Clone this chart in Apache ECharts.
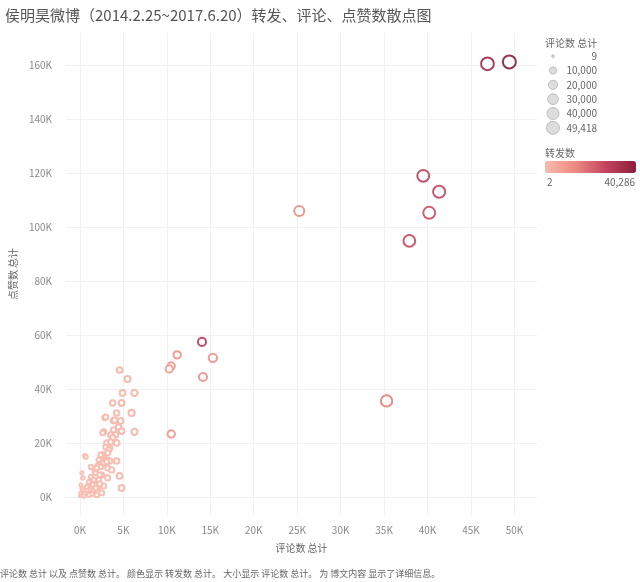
<!DOCTYPE html>
<html>
<head>
<meta charset="utf-8">
<script src="https://cdn.jsdelivr.net/npm/echarts@6/dist/echarts.min.js"></script>
<style>
  html, body { margin: 0; padding: 0; background: #fff; }
  #chart { width: 640px; height: 582px; }
</style>
</head>
<body>
<div id="chart"></div>
<script>
// 评论数, 点赞数, 转发数 per post
const comments = [
  49418, 46900, 39510, 41340, 40200, 37910, 25240, 35290,
  14050, 11190, 15300, 10510, 10280, 14160, 10510,
  4570, 5480, 4910, 6280, 3770, 4800, 4230, 5940, 2860, 3880, 4680, 4450, 3880, 6280,
  2740, 3540, 4110, 2630, 4800, 3770, 3080, 4230, 3430, 2970, 3310, 2630, 3200, 570,
  2400, 3080, 2280, 2860, 3430, 4230, 2060, 3200, 1710, 4570, 2510, 340, 1370, 2060,
  1480, 910, 4800, 2060, 2510, 1140, 570, 230, 230, 800, 1940, 1830, 2280, 1260,
  1600, 2170, 800, 110, 110, 690, 1260, 2400, 1940, 2740, 3080, 2170, 3540, 2970,
  4000, 1600, 1830, 2740, 2280, 3200, 3650, 1030, 1370, 460, 50, 1030, 340
]
const likes = [
  161100, 160400, 118900, 113000, 105200, 94800, 105900, 35560,
  57400, 52600, 51500, 48500, 47400, 44400, 23300,
  47000, 43700, 38500, 38500, 34800, 34800, 31100, 31100, 29300, 28200, 28200, 25900, 24800, 24100,
  24100, 23000, 23000, 23700, 24400, 21900, 20000, 20000, 18100, 18500, 17400, 15600, 16300, 15200,
  15600, 13700, 13300, 13300, 13300, 13300, 11500, 10700, 9630, 7780, 8150, 7040, 6300, 5930,
  4440, 4070, 3330, 3330, 1480, 2590, 1480, 3330, 8890, 2590, 740, 8890, 8150, 7410,
  6300, 6300, 3700, 1480, 4440, 14800, 11100, 11100, 10700, 12600, 13000, 13700, 20400, 29600,
  28500, 2590, 3330, 4070, 4810, 7040, 10000, 5560, 1110, 370, 370, 740, 2590
]
const reposts = [
  40286, 36000, 29000, 27000, 25000, 26000, 13000, 16000,
  30000, 11000, 12000, 10000, 9500, 12000, 10000,
  2600, 2400, 2200, 2800, 1900, 2300, 1800, 2500, 1500, 1700, 2000, 1800, 1600, 2600,
  1400, 1500, 1700, 1300, 2100, 1500, 1200, 1600, 1300, 1100, 1200, 1000, 1100, 400,
  900, 1000, 900, 1000, 1100, 1500, 800, 1200, 700, 1900, 900, 200, 500, 700,
  500, 300, 1800, 700, 600, 400, 200, 100, 150, 250, 500, 700, 800, 450,
  500, 700, 250, 30, 60, 300, 450, 800, 700, 1000, 1100, 800, 1300, 1400,
  1600, 400, 500, 700, 600, 900, 1200, 350, 300, 100, 2, 200, 120
]

const xTicks = [0, 5000, 10000, 15000, 20000, 25000, 30000, 35000, 40000, 45000, 50000]
const yTicks = [0, 20000, 40000, 60000, 80000, 100000, 120000, 140000, 160000]
const sizeLegendValues = [9, 10000, 20000, 30000, 40000, 49418]
const repostRange = [2, 40286]
const maxComments = 49418

const data = comments.map((c, i) => [c, likes[i], reposts[i]])

const sizeOf = v => 2.5 + Math.sqrt(v / maxComments) * 10.5
const kFmt = v => Math.round(v / 1000) + 'K'
const grey = '#8a8a8a'
const font = '"Noto Sans CJK SC", "Noto Sans", sans-serif'

const chart = echarts.init(document.getElementById('chart'))

const option = {
  backgroundColor: '#fff',
  textStyle: { fontFamily: font },
  animation: false,
  title: [
    {
      text: '侯明昊微博（2014.2.25~2017.6.20）转发、评论、点赞数散点图',
      left: 0, top: 3,
      textStyle: { fontSize: 15, fontWeight: 'normal', color: '#555', fontFamily: font }
    },
    { text: '评论数 总计', left: 540, top: 33, textStyle: { fontSize: 10, fontWeight: 'normal', color: '#666' } },
    { text: '转发数', left: 540, top: 143, textStyle: { fontSize: 10, fontWeight: 'normal', color: '#666' } },
    { text: '2', left: 542, top: 172, textStyle: { fontSize: 10, fontWeight: 'normal', color: '#666' } },
    { text: '40,286', right: 0, top: 172, textStyle: { fontSize: 10, fontWeight: 'normal', color: '#666' } },
    {
      text: '评论数 总计 以及 点赞数 总计。 颜色显示 转发数 总计。 大小显示 评论数 总计。 为 博文内容 显示了详细信息。',
      left: -5, top: 564,
      textStyle: { fontSize: 9, fontWeight: 'normal', color: '#666' }
    }
  ],
  visualMap: [
    {
      type: 'continuous',
      seriesIndex: 0,
      dimension: 2,
      min: repostRange[0],
      max: repostRange[1],
      orient: 'horizontal',
      left: 530,
      top: 146,
      itemWidth: 12,
      itemHeight: 91,
      calculable: false,
      text: null,
      showLabel: false,
      inRange: { color: ['#f8bcae', '#ec8a82', '#c4445e', '#8c1e3c'] }
    }
  ],
  grid: [
    { left: 62, right: 103, top: 33, bottom: 67 },
    { left: 547, width: 12, top: 49, height: 86 }
  ],
  xAxis: [
    {
      type: 'value',
      min: -1600,
      max: 52600,
      name: '评论数 总计',
      nameLocation: 'middle',
      nameGap: 28,
      nameTextStyle: { color: '#666', fontSize: 10 },
      axisLine: { show: false },
      axisTick: { show: false, customValues: xTicks },
      axisLabel: { customValues: xTicks, formatter: kFmt, color: grey, fontSize: 10, margin: 10 },
      splitLine: { show: true, lineStyle: { color: '#f1f1f1' } }
    },
    { gridIndex: 1, type: 'value', min: 0, max: 1, show: false }
  ],
  yAxis: [
    {
      type: 'value',
      min: -6700,
      max: 171800,
      name: '点赞数 总计',
      nameLocation: 'middle',
      nameGap: 44,
      nameTextStyle: { color: '#666', fontSize: 10 },
      axisLine: { show: false },
      axisTick: { show: false, customValues: yTicks },
      axisLabel: { customValues: yTicks, formatter: kFmt, color: grey, fontSize: 10, margin: 14 },
      splitLine: { show: true, lineStyle: { color: '#f1f1f1' } }
    },
    {
      gridIndex: 1,
      type: 'category',
      inverse: true,
      position: 'right',
      data: sizeLegendValues.map(v => v.toLocaleString('en-US')),
      axisLine: { show: false },
      axisTick: { show: false },
      splitLine: { show: false },
      axisLabel: { align: 'right', margin: 38, color: '#666', fontSize: 10 }
    }
  ],
  series: [
    {
      type: 'scatter',
      data: data,
      symbol: 'emptyCircle',
      symbolSize: val => sizeOf(val[0]),
      itemStyle: { borderWidth: 1.3, opacity: 0.9 }
    },
    {
      type: 'scatter',
      xAxisIndex: 1,
      yAxisIndex: 1,
      data: sizeLegendValues.map((v, i) => [0.5, i, v]),
      symbolSize: val => sizeOf(val[2]),
      itemStyle: { color: '#d4d4d4', borderColor: '#b0b0b0', borderWidth: 1 },
      silent: true
    }
  ]
}

chart.setOption(option)
</script>
</body>
</html>
